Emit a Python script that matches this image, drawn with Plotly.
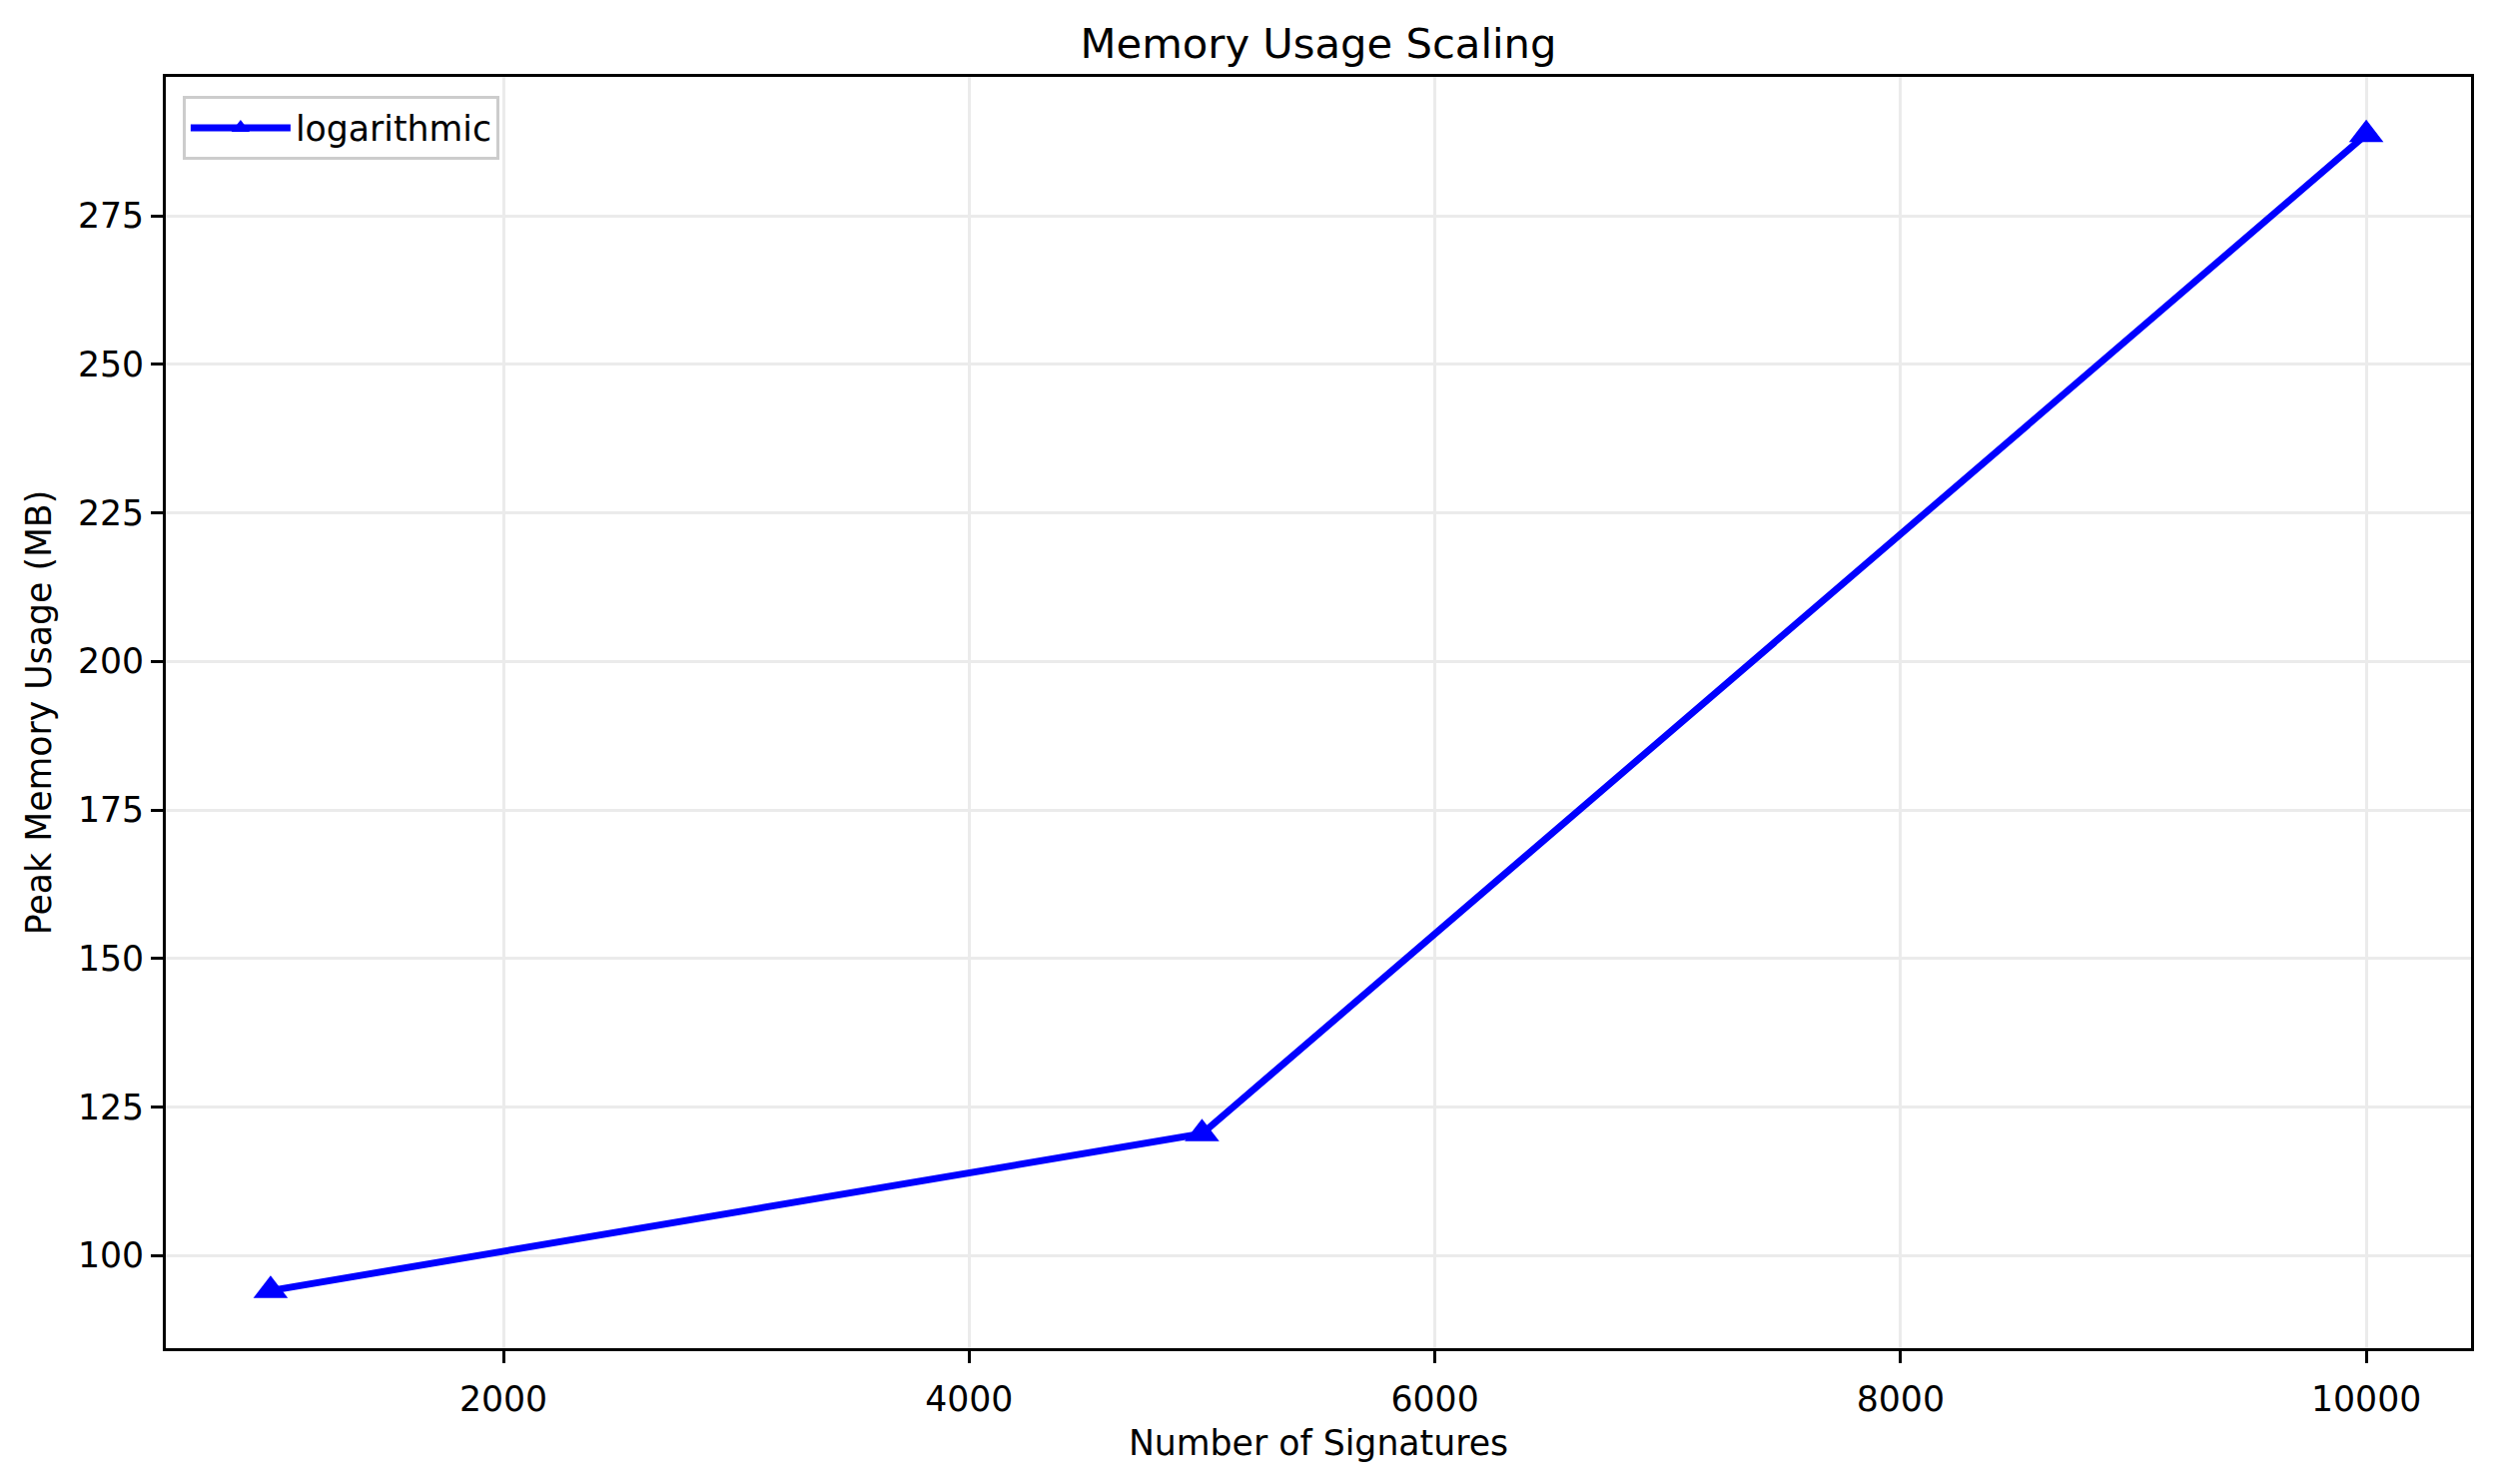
import plotly.graph_objects as go

# data
signatures = [1000, 5000, 10000]
peak_memory_mb = [94.1, 120.5, 288.7]
series_name = "logarithmic"
x_ticks = [2000, 4000, 6000, 8000, 10000]
x_tick_labels = ["2000", "4000", "6000", "8000", "10000"]
y_ticks = [100, 125, 150, 175, 200, 225, 250, 275]

FONT = "DejaVu Sans"
FS = 34.7  # 10pt at 250 dpi

# page body has an 8px margin, so the figure is a bit smaller than the window
W, H = 2484, 1470

fig = go.Figure()
fig.add_trace(
    go.Scatter(
        x=signatures,
        y=peak_memory_mb,
        mode="lines+markers",
        name=series_name,
        line={"color": "#0000ff", "width": 6.9},
        marker={"symbol": "triangle-up", "size": 30, "color": "#0000ff"},
    )
)

axis_style = dict(
    showline=True,
    mirror=True,
    linecolor="black",
    linewidth=2.8,
    ticks="outside",
    ticklen=12,
    tickwidth=2.8,
    tickcolor="black",
    showgrid=True,
    gridcolor="#ebebeb",
    gridwidth=2.8,
    zeroline=False,
    tickfont={"family": FONT, "size": FS, "color": "black"},
)

fig.update_layout(
    width=W,
    height=H,
    margin={"l": 158, "r": 18, "t": 69, "b": 128},
    paper_bgcolor="white",
    plot_bgcolor="white",
    font={"family": FONT, "size": FS, "color": "black"},
    title={
        "text": "Memory Usage Scaling",
        "xref": "paper",
        "x": 0.5,
        "xanchor": "center",
        "y": 1 - 35 / H,
        "yanchor": "middle",
        "font": {"family": FONT, "size": 41.7, "color": "black"},
    },
    legend={
        "x": 0.0074,
        "y": 0.985,
        "xanchor": "left",
        "yanchor": "top",
        "bgcolor": "rgba(255,255,255,0.8)",
        "bordercolor": "#cccccc",
        "borderwidth": 2.8,
        "itemwidth": 100,
        "font": {"family": FONT, "size": FS},
    },
    showlegend=True,
)

fig.update_xaxes(
    axis_style,
    range=[550, 10450],
    tickvals=x_ticks,
    ticktext=x_tick_labels,
    ticklabelstandoff=6,
    title={"text": "Number of Signatures", "standoff": 14, "font": {"family": FONT, "size": FS}},
)
fig.update_yaxes(
    axis_style,
    range=[84.4, 298.4],
    tickvals=y_ticks,
    title={"text": "Peak Memory Usage (MB)", "standoff": 16, "font": {"family": FONT, "size": FS}},
)

fig.write_html("out.html")
